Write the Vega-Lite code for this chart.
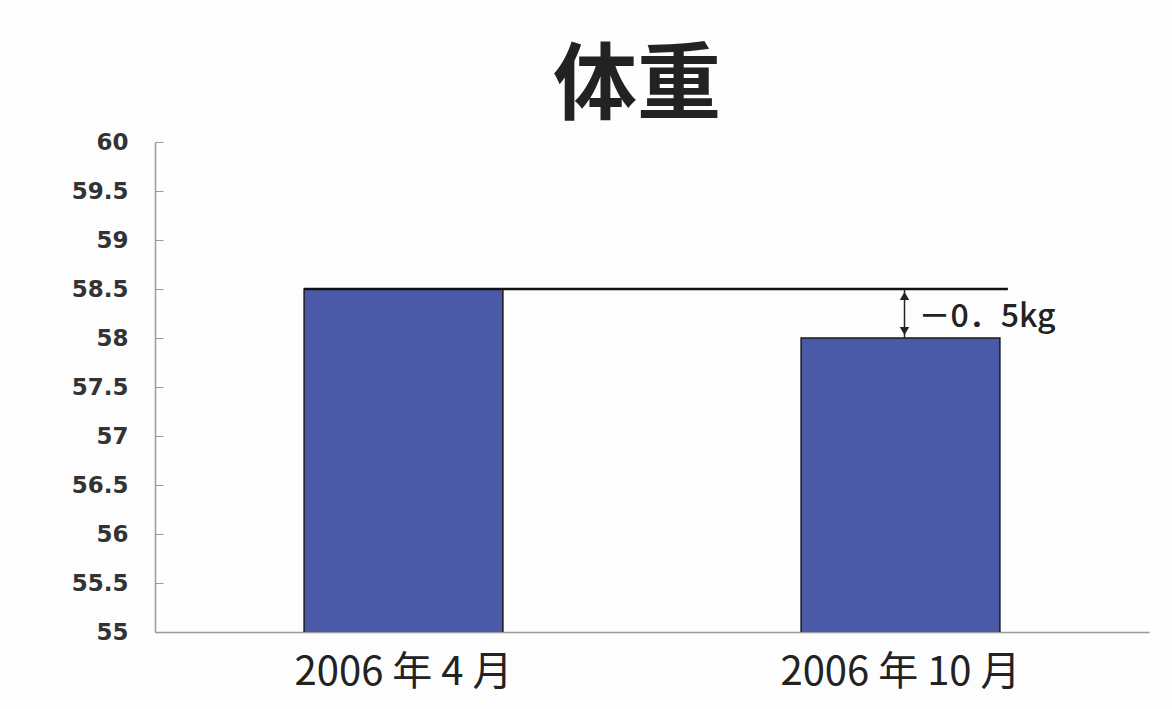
{
  "$schema": "https://vega.github.io/schema/vega-lite/v6.json",
  "autosize": {"type": "none"},
  "width": 994,
  "height": 490,
  "padding": {"left": 155, "top": 142, "right": 23, "bottom": 77},
  "background": "#fdfdfd",
  "title": {
    "text": "体重",
    "font": "Noto Sans CJK JP",
    "fontSize": 84,
    "fontWeight": "bold",
    "color": "#222222",
    "anchor": "middle",
    "offset": 0,
    "dx": -15
  },
  "config": {"view": {"stroke": null}},
  "datasets": {
    "weights": [
      {"month": "2006 年 4 月", "weight": 58.5},
      {"month": "2006 年 10 月", "weight": 58.0}
    ],
    "refline": [
      {"from": "2006 年 4 月", "to": "2006 年 10 月", "level": 58.5}
    ],
    "diff": [
      {"month": "2006 年 10 月", "top": 58.5, "bottom": 58.0, "mid": 58.25, "label": "－0．5kg"}
    ]
  },
  "layer": [
    {
      "data": {"name": "weights"},
      "mark": {"type": "bar", "color": "#4a59a8", "stroke": "#1a1a1a", "strokeWidth": 1.5, "clip": true},
      "encoding": {
        "x": {
          "field": "month", "type": "nominal", "sort": null,
          "scale": {"paddingInner": 0.6, "paddingOuter": 0.3},
          "axis": {
            "title": null, "labelAngle": 0, "ticks": false, "labelLimit": 0,
            "labelFont": "Noto Sans CJK JP", "labelFontSize": 40, "labelColor": "#222222",
            "labelPadding": 20, "domainColor": "#9a9a9a", "domainWidth": 1.5
          }
        },
        "y": {
          "field": "weight", "type": "quantitative",
          "scale": {"domain": [55, 60], "nice": false, "zero": false},
          "axis": {
            "title": null, "grid": false, "format": ".1~f",
            "values": [55, 55.5, 56, 56.5, 57, 57.5, 58, 58.5, 59, 59.5, 60],
            "labelFont": "DejaVu Sans", "labelFontSize": 23, "labelFontWeight": "bold", "labelColor": "#333333",
            "tickSize": -8, "tickColor": "#9a9a9a", "domainColor": "#9a9a9a", "domainWidth": 1.5,
            "labelPadding": 35
          }
        }
      }
    },
    {
      "data": {"name": "refline"},
      "mark": {"type": "rule", "color": "#111111", "strokeWidth": 2.5, "x2Offset": 8},
      "encoding": {
        "x": {"field": "from", "type": "nominal", "sort": null, "bandPosition": 0},
        "x2": {"field": "to", "bandPosition": 1},
        "y": {"field": "level", "type": "quantitative"}
      }
    },
    {
      "data": {"name": "diff"},
      "mark": {"type": "rule", "color": "#222222", "strokeWidth": 1.5, "xOffset": 4},
      "encoding": {
        "x": {"field": "month", "type": "nominal", "sort": null},
        "y": {"field": "top", "type": "quantitative"},
        "y2": {"field": "bottom"}
      }
    },
    {
      "data": {"name": "diff"},
      "mark": {"type": "point", "shape": "triangle-up", "filled": true, "color": "#222222", "size": 90, "xOffset": 4, "yOffset": 7, "opacity": 1},
      "encoding": {
        "x": {"field": "month", "type": "nominal", "sort": null},
        "y": {"field": "top", "type": "quantitative"}
      }
    },
    {
      "data": {"name": "diff"},
      "mark": {"type": "point", "shape": "triangle-down", "filled": true, "color": "#222222", "size": 90, "xOffset": 4, "yOffset": -7, "opacity": 1},
      "encoding": {
        "x": {"field": "month", "type": "nominal", "sort": null},
        "y": {"field": "bottom", "type": "quantitative"}
      }
    },
    {
      "data": {"name": "diff"},
      "mark": {"type": "text", "align": "left", "baseline": "middle", "dx": 18, "dy": 3, "font": "Noto Sans CJK JP", "fontSize": 32, "fontWeight": 500, "color": "#222222"},
      "encoding": {
        "x": {"field": "month", "type": "nominal", "sort": null},
        "y": {"field": "mid", "type": "quantitative"},
        "text": {"field": "label"}
      }
    }
  ]
}
